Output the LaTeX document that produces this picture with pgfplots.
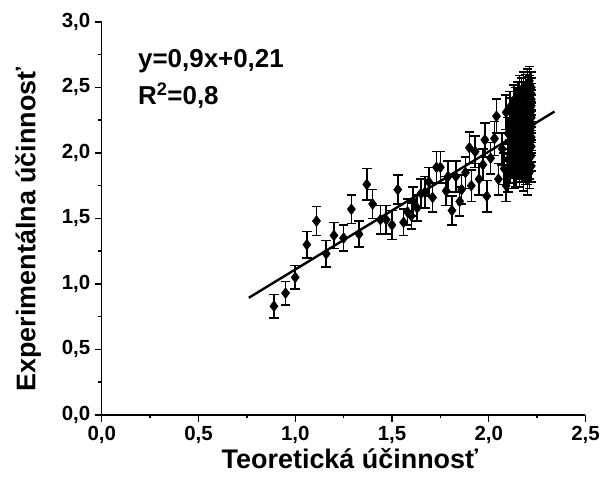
\documentclass[border=0pt]{standalone}
\usepackage{pgfplots}
\pgfplotsset{compat=1.18}
\usepackage{pgfplotstable}
\usepackage{fontspec}
\setmainfont{Liberation Sans}

% x = theoretical, y = experimental, e = error
\pgfplotstableread{
x y e
0.89 0.83 0.09
0.95 0.93 0.09
1.00 1.05 0.09
1.06 1.30 0.10
1.11 1.48 0.11
1.16 1.23 0.10
1.20 1.37 0.10
1.25 1.35 0.10
1.29 1.57 0.11
1.33 1.38 0.10
1.37 1.76 0.12
1.40 1.61 0.11
1.44 1.49 0.11
1.47 1.49 0.11
1.50 1.45 0.11
1.53 1.72 0.11
1.56 1.47 0.10
1.58 1.55 0.10
1.60 1.52 0.10
1.61 1.63 0.11
1.63 1.58 0.10
1.65 1.69 0.11
1.67 1.70 0.12
1.69 1.78 0.11
1.71 1.66 0.11
1.73 1.89 0.12
1.75 1.89 0.12
1.78 1.71 0.11
1.79 1.82 0.12
1.81 1.56 0.11
1.83 1.82 0.12
1.85 1.63 0.11
1.86 1.72 0.11
1.88 1.85 0.12
1.90 2.04 0.12
1.91 1.75 0.12
1.93 2.01 0.12
1.95 1.80 0.12
1.97 1.91 0.12
1.98 2.10 0.13
1.99 1.67 0.12
2.01 1.96 0.12
2.03 2.11 0.13
2.04 2.28 0.13
2.05 1.80 0.12
2.07 2.03 0.12
2.08 1.88 0.12
2.09 1.75 0.12
2.09 2.31 0.13
2.10 1.95 0.12
2.10 2.15 0.12
2.10 1.82 0.12
2.11 2.22 0.12
2.11 1.88 0.11
2.11 2.08 0.12
2.11 2.35 0.12
2.12 2.05 0.12
2.12 2.30 0.12
2.12 1.93 0.12
2.12 2.15 0.12
2.13 1.98 0.12
2.13 2.18 0.12
2.13 2.27 0.12
2.13 2.40 0.12
2.13 1.85 0.12
2.14 2.38 0.12
2.14 1.85 0.11
2.14 2.10 0.12
2.14 2.22 0.12
2.14 2.00 0.12
2.15 2.10 0.12
2.15 2.25 0.12
2.15 2.42 0.12
2.15 1.92 0.12
2.15 2.33 0.12
2.15 2.02 0.12
2.16 1.95 0.12
2.16 2.02 0.12
2.16 2.33 0.12
2.16 2.47 0.12
2.16 2.15 0.12
2.16 2.25 0.12
2.16 1.86 0.12
2.17 2.15 0.12
2.17 2.45 0.12
2.17 1.90 0.12
2.17 2.22 0.12
2.17 2.06 0.12
2.17 2.36 0.12
2.17 1.98 0.12
2.18 2.05 0.12
2.18 2.28 0.12
2.18 2.38 0.12
2.18 1.82 0.11
2.18 2.50 0.12
2.18 2.14 0.12
2.18 1.94 0.12
2.18 2.21 0.12
2.19 2.12 0.12
2.19 2.20 0.12
2.19 2.48 0.12
2.19 1.97 0.12
2.19 2.32 0.12
2.19 2.40 0.12
2.19 1.88 0.12
2.19 2.05 0.12
2.19 2.27 0.12
2.20 2.00 0.12
2.20 2.08 0.12
2.20 2.25 0.12
2.20 2.35 0.12
2.20 2.42 0.12
2.20 2.52 0.12
2.20 1.88 0.12
2.20 2.18 0.12
2.20 2.30 0.12
2.20 1.80 0.12
2.20 2.13 0.12
2.20 2.46 0.12
2.21 1.92 0.12
2.21 2.04 0.12
2.21 2.16 0.12
2.21 2.30 0.12
2.21 2.40 0.12
2.21 2.47 0.12
2.21 2.55 0.11
2.21 2.22 0.12
2.21 2.10 0.12
2.21 1.85 0.12
2.21 2.35 0.12
2.22 1.98 0.12
2.22 2.10 0.12
2.22 2.27 0.12
2.22 2.36 0.12
2.22 2.45 0.12
2.22 2.12 0.12
2.22 2.20 0.12
2.22 2.50 0.12
2.22 1.90 0.12
2.22 2.05 0.12
2.22 2.32 0.12
2.22 2.41 0.12
}\datatable

\begin{document}
\begin{tikzpicture}
\begin{axis}[
    name=main,
    scale only axis,
    width=485pt,
    height=394pt,
    xmin=0, xmax=2.5,
    ymin=0, ymax=3,
    xtick={0,0.5,...,2.5},
    ytick={0,0.5,...,3},
    minor tick num=1,
    axis x line*=bottom,
    axis y line*=left,
    axis line style={-, line width=1.4pt},
    tick align=outside,
    major tick length=7pt,
    minor tick length=3.5pt,
    tick style={line width=1.4pt, black},
    every tick label/.append style={font=\fontsize{20.5}{20.5}\selectfont\bfseries},
    xticklabel style={yshift=-1pt},
    yticklabel style={xshift=-1pt},
    /pgf/number format/assume math mode=true,
    /pgf/number format/.cd, use comma, fixed, fixed zerofill, precision=1,
    /pgfplots/.cd,
    xlabel={Teoretická účinnosť},
    ylabel={Experimentálna účinnosť},
    label style={font=\fontsize{27}{27}\selectfont\bfseries},
    xlabel style={at={(axis description cs:0.513,-0.112)}, anchor=center},
    ylabel style={at={(axis description cs:-0.152,0.472)}, anchor=center},
]
\addplot[only marks, mark=diamond*, mark size=5.5pt, black,
    error bars/.cd, y dir=both, y explicit,
    error bar style={line width=1.6pt, black},
    error mark options={line width=1.6pt, mark size=4.8pt, black, rotate=90}]
    table[x=x, y=y, y error=e] {\datatable};
\addplot[line width=2.4pt, black, no marks] coordinates {(0.76,0.894) (2.34,2.316)};
\node[anchor=west, font=\fontsize{26}{26}\selectfont\bfseries] at (axis cs:0.17,2.70) {y=0,9x+0,21};
\node[anchor=west, font=\fontsize{26}{26}\selectfont\bfseries] at (axis cs:0.17,2.44) {R\textsuperscript{2}=0,8};
\end{axis}
\path (main.south west) ++(-102pt,-77pt) rectangle ++(603pt,493pt);
\end{tikzpicture}
\end{document}
